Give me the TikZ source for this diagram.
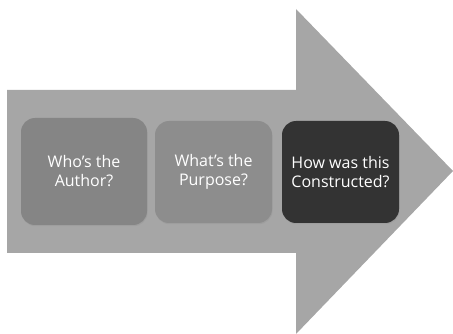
\documentclass[tikz,border=0pt]{standalone}
\usepackage{fontspec}
\setmainfont{Open Sans}
\usetikzlibrary{shadows}
\definecolor{arrowgray}{HTML}{A6A6A6}
\definecolor{boxa}{HTML}{858585}
\definecolor{boxb}{HTML}{8D8D8D}
\definecolor{boxc}{HTML}{333333}
\begin{document}
\begin{tikzpicture}[x=1pt,y=-1pt,
        qbox/.style={rounded corners=14pt,text=white,align=center,inner sep=0pt,
            font=\fontsize{16}{19}\selectfont,
            drop shadow={opacity=0.2,shadow xshift=0.6pt,shadow yshift=-1.2pt}}]
            \useasboundingbox (0,0) rectangle (453,334);
            \fill[arrowgray] (7,90)--(296,90)--(296,9)--(453,171)--(296,334)--(296,253)--(7,253)--cycle;
            \node[qbox,fill=boxa,minimum width=126pt,minimum height=107pt] (author) at (84,171.5) {Who’s the\\Author?};
            \node[qbox,fill=boxb,minimum width=117pt,minimum height=102pt] (purpose) at (213.5,172) {What’s the\\Purpose?};
            \node[qbox,fill=boxc,minimum width=117pt,minimum height=102pt] (constructed) at (340.5,172) {How was this\\Constructed?};
        \end{tikzpicture}
\end{document}
